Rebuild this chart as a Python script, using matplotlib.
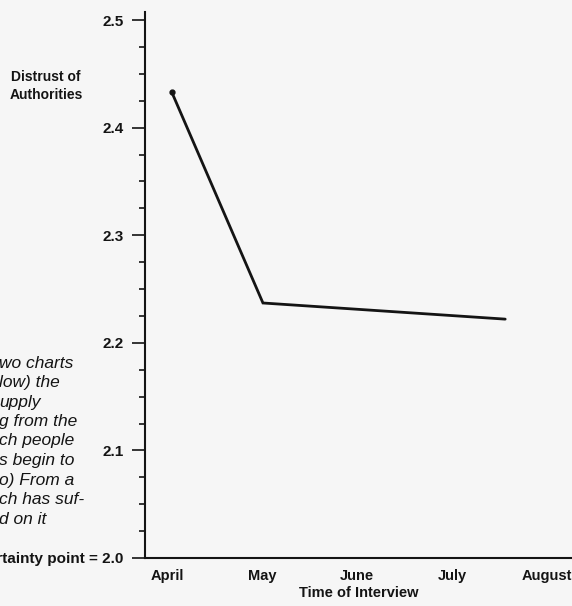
import matplotlib
matplotlib.use("Agg")  # headless
import matplotlib.pyplot as plt
from matplotlib.ticker import MultipleLocator, FixedLocator

INK = "#141414"
PAPER = "#f6f6f6"

# interview waves, months numbered April=4 ... August=8
wave_month = [4.05, 5.01, 7.56]
distrust = [2.433, 2.237, 2.222]

month_pos = [4, 5, 6, 7, 8]
month_names = ["April", "May", "June", "July", "August"]

y_ticks = [2.0, 2.1, 2.2, 2.3, 2.4, 2.5]
y_labels = ["Uncertainty point = 2.0", "2.1", "2.2", "2.3", "2.4", "2.5"]

# left-hand caption, cut off by the page edge in the scan
caption = ["wo charts", "low) the", "upply", "g from the", "ch people",
           "s begin to", "o) From a", "ch has suf-", "d on it"]

plt.rcParams["font.family"] = ["Liberation Sans", "DejaVu Sans"]

W, H = 572, 606
fig = plt.figure(figsize=(W / 100, H / 100), dpi=100, facecolor=PAPER)
ax = fig.add_axes([145 / W, (H - 558) / H, 1 - 145 / W, (558 - 20) / H])
ax.set_facecolor(PAPER)

ax.plot(wave_month, distrust, color=INK, lw=2.0, solid_capstyle="round",
        solid_joinstyle="miter")
ax.plot(wave_month[:1], distrust[:1], "o", color=INK, ms=3.5)

px_per_month = 95
ax.set_xlim(4 - 22 / px_per_month, 4 + (572 - 167) / px_per_month)
ax.set_ylim(2.0, 2.5)
ax.spines[["top", "right"]].set_visible(False)
ax.spines["left"].set_bounds(2.0, 2.507)
for s in ("left", "bottom"):
    ax.spines[s].set_linewidth(1.5)
    ax.spines[s].set_color(INK)

ax.yaxis.set_major_locator(FixedLocator(y_ticks))
ax.set_yticklabels(y_labels, fontsize=11, fontweight="bold", color=INK)
ax.yaxis.set_minor_locator(MultipleLocator(0.025))
ax.tick_params(axis="y", which="major", length=9.5, width=1.2, pad=6, colors=INK)
ax.tick_params(axis="y", which="minor", length=4.5, width=1.2, colors=INK)

ax.set_xticks(month_pos)
ax.set_xticklabels(month_names, fontsize=10.5, fontweight="bold", color=INK)
ax.tick_params(axis="x", length=0, pad=8)
ax.set_xlabel("Time of Interview", fontsize=10.5, fontweight="bold", color=INK,
              labelpad=2)

fig.text(46 / W, 1 - 86 / H, "Distrust of\nAuthorities", ha="center", va="center",
         fontsize=10, fontweight="bold", color=INK, linespacing=1.35)

for i, line in enumerate(caption):
    fig.text(-1 / W, 1 - (363 + i * 19.5) / H, line, ha="left", va="center",
             fontsize=12.5, style="italic", color=INK)

fig.savefig("out.png", dpi=100, facecolor=PAPER)
plt.close(fig)
